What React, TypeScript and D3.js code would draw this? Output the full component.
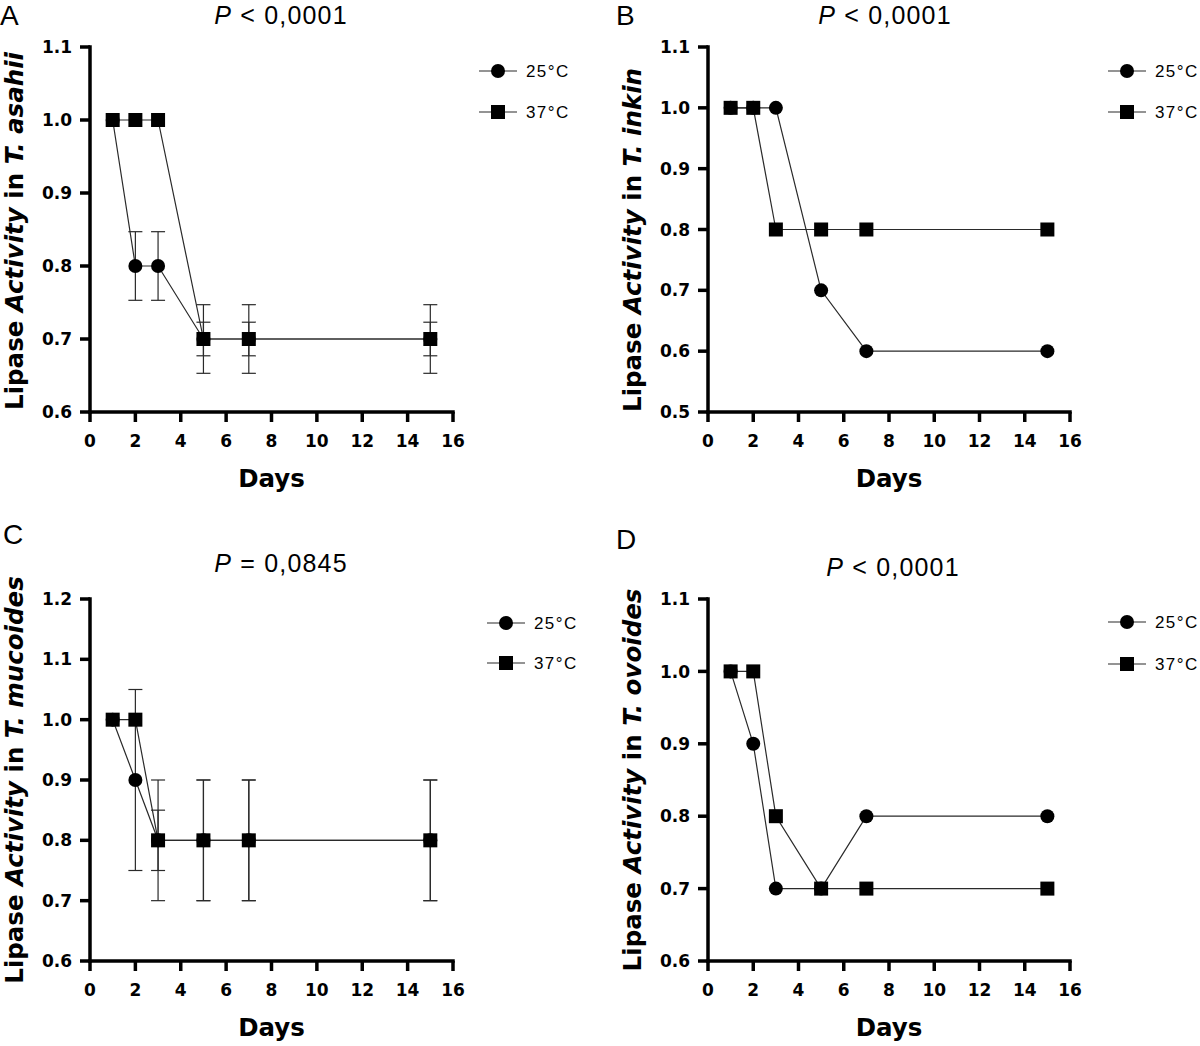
import React from "react";
import * as d3 from "d3";

const days = [1, 2, 3, 5, 7, 15];
const xTicks = [0, 2, 4, 6, 8, 10, 12, 14, 16];

// Panel A – T. asahii
const a25 = [1.0, 0.8, 0.8, 0.7, 0.7, 0.7];
const a25Err = [0, 0.047, 0.047, 0.047, 0.047, 0.047];
const a37 = [1.0, 1.0, 1.0, 0.7, 0.7, 0.7];
const a37Err = [0, 0, 0, 0.023, 0.023, 0.023];
// Panel B – T. inkin
const b25 = [1.0, 1.0, 1.0, 0.7, 0.6, 0.6];
const b37 = [1.0, 1.0, 0.8, 0.8, 0.8, 0.8];
// Panel C – T. mucoides
const c25 = [1.0, 0.9, 0.8, 0.8, 0.8, 0.8];
const c25Err = [0, 0.15, 0.05, 0.1, 0.1, 0.1];
const c37 = [1.0, 1.0, 0.8, 0.8, 0.8, 0.8];
const c37Err = [0, 0, 0.1, 0.1, 0.1, 0.1];
// Panel D – T. ovoides
const d25 = [1.0, 0.9, 0.7, 0.7, 0.8, 0.8];
const d37 = [1.0, 1.0, 0.8, 0.7, 0.7, 0.7];

const seriesNames = ["25°C", "37°C"];

type PanelCfg = {
  letter: string;
  species: string;
  pRel: string;
  pVal: string;
  yDomain: [number, number];
  s25: number[];
  s37: number[];
  e25?: number[];
  e37?: number[];
  x0: number;
  x1: number;
  yTop: number;
  yBot: number;
  letterPos: [number, number];
  titlePos: [number, number];
  ylabX: number;
  ylabY: number;
  legendX: number;
  legendY: [number, number];
};

const panels: PanelCfg[] = [
  {
    letter: "A", species: "T. asahii", pRel: "<", pVal: "0,0001",
    yDomain: [0.6, 1.1], s25: a25, s37: a37, e25: a25Err, e37: a37Err,
    x0: 90, x1: 453, yTop: 47, yBot: 412,
    letterPos: [0, 25], titlePos: [281, 24], ylabX: 23, ylabY: 231,
    legendX: 479, legendY: [71, 112],
  },
  {
    letter: "B", species: "T. inkin", pRel: "<", pVal: "0,0001",
    yDomain: [0.5, 1.1], s25: b25, s37: b37,
    x0: 708, x1: 1070, yTop: 47, yBot: 412,
    letterPos: [616, 25], titlePos: [885, 24], ylabX: 641, ylabY: 240,
    legendX: 1108, legendY: [71, 112],
  },
  {
    letter: "C", species: "T. mucoides", pRel: "=", pVal: "0,0845",
    yDomain: [0.6, 1.2], s25: c25, s37: c37, e25: c25Err, e37: c37Err,
    x0: 90, x1: 453, yTop: 599, yBot: 961,
    letterPos: [3, 544], titlePos: [281, 572], ylabX: 23, ylabY: 780,
    legendX: 487, legendY: [623, 663],
  },
  {
    letter: "D", species: "T. ovoides", pRel: "<", pVal: "0,0001",
    yDomain: [0.6, 1.1], s25: d25, s37: d37,
    x0: 708, x1: 1070, yTop: 599, yBot: 961,
    letterPos: [616, 549], titlePos: [893, 576], ylabX: 641, ylabY: 780,
    legendX: 1108, legendY: [622, 664],
  },
];

const FONT = "'Liberation Sans', Arial, Helvetica, sans-serif";
const AXFONT = "'DejaVu Sans', Verdana, sans-serif";
const LINE = "#2a2a2a";

function Marker({ kind, x, y }: { kind: number; x: number; y: number }) {
  if (kind === 0) return <circle cx={x} cy={y} r={7} fill="#000" />;
  return <rect x={x - 7} y={y - 7} width={14} height={14} fill="#000" />;
}

function Panel({ p }: { p: PanelCfg }) {
  const x = d3.scaleLinear().domain([0, 16]).range([p.x0, p.x1]);
  const y = d3.scaleLinear().domain(p.yDomain).range([p.yBot, p.yTop]);
  const yTicks = d3.range(Math.round(p.yDomain[0] * 10), Math.round(p.yDomain[1] * 10) + 1).map((v) => v / 10);
  const line = d3.line<number>().x((_, i) => x(days[i])).y((v) => y(v));
  const fmt = d3.format(".1f");
  const series = [p.s25, p.s37];
  const errs = [p.e25, p.e37];
  return (
    <g>
      <text x={p.letterPos[0]} y={p.letterPos[1]} fontFamily={FONT} fontSize={28}>{p.letter}</text>
      <text x={p.titlePos[0]} y={p.titlePos[1]} fontFamily={FONT} fontSize={25} letterSpacing={1.2} textAnchor="middle">
        <tspan fontStyle="italic">P</tspan> {p.pRel} {p.pVal}
      </text>
      {/* error bars */}
      {errs.map((e, si) =>
        e
          ? e.map((ev, i) =>
              ev > 0 ? (
                <g key={`e${si}-${i}`} stroke={LINE} strokeWidth={1.2}>
                  <line x1={x(days[i])} x2={x(days[i])} y1={y(series[si][i] + ev)} y2={y(series[si][i] - ev)} />
                  <line x1={x(days[i]) - 7} x2={x(days[i]) + 7} y1={y(series[si][i] + ev)} y2={y(series[si][i] + ev)} />
                  <line x1={x(days[i]) - 7} x2={x(days[i]) + 7} y1={y(series[si][i] - ev)} y2={y(series[si][i] - ev)} />
                </g>
              ) : null
            )
          : null
      )}
      {series.map((s, si) => (
        <path key={`l${si}`} d={line(s) || ""} fill="none" stroke={LINE} strokeWidth={1.2} />
      ))}
      {series.map((s, si) => s.map((v, i) => <Marker key={`m${si}-${i}`} kind={si} x={x(days[i])} y={y(v)} />))}
      {/* axes */}
      <g stroke="#000" strokeWidth={3.5}>
        <line x1={p.x0} x2={p.x0} y1={p.yTop - 1.75} y2={p.yBot + 1.75} />
        <line x1={p.x0 - 1.75} x2={p.x1 + 1.75} y1={p.yBot} y2={p.yBot} />
        {yTicks.map((t) => (
          <line key={`yt${t}`} x1={p.x0 - 10} x2={p.x0} y1={y(t)} y2={y(t)} />
        ))}
        {xTicks.map((t) => (
          <line key={`xt${t}`} x1={x(t)} x2={x(t)} y1={p.yBot} y2={p.yBot + 10} />
        ))}
      </g>
      {yTicks.map((t) => (
        <text key={`yl${t}`} x={p.x0 - 18} y={y(t)} dy="0.36em" textAnchor="end" fontFamily={AXFONT} fontWeight="bold" fontSize={17}>
          {fmt(t)}
        </text>
      ))}
      {xTicks.map((t) => (
        <text key={`xl${t}`} x={x(t)} y={p.yBot + 35} textAnchor="middle" fontFamily={AXFONT} fontWeight="bold" fontSize={17}>
          {t}
        </text>
      ))}
      <text x={(p.x0 + p.x1) / 2} y={p.yBot + 75} textAnchor="middle" fontFamily={AXFONT} fontWeight="bold" fontSize={24.5}>
        Days
      </text>
      <text
        transform={`translate(${p.ylabX},${p.ylabY}) rotate(-90)`}
        textAnchor="middle"
        fontFamily={AXFONT}
        fontWeight="bold"
        fontSize={24.5}
      >
        Lipase <tspan fontStyle="italic">Activity</tspan> in <tspan fontStyle="italic">{p.species}</tspan>
      </text>
      {/* legend */}
      {seriesNames.map((n, si) => (
        <g key={`lg${si}`}>
          <line x1={p.legendX} x2={p.legendX + 38} y1={p.legendY[si]} y2={p.legendY[si]} stroke={LINE} strokeWidth={1.2} />
          <Marker kind={si} x={p.legendX + 19} y={p.legendY[si]} />
          <text x={p.legendX + 47} y={p.legendY[si]} dy="0.36em" fontFamily={FONT} fontSize={17} letterSpacing={1.4}>
            {n}
          </text>
        </g>
      ))}
    </g>
  );
}

export default function App() {
  return (
    <svg width={1200} height={1046} style={{ position: "absolute", left: 0, top: 0, background: "#fff" }}>
      <rect width={1200} height={1046} fill="#fff" />
      {panels.map((p) => (
        <Panel key={p.letter} p={p} />
      ))}
    </svg>
  );
}
